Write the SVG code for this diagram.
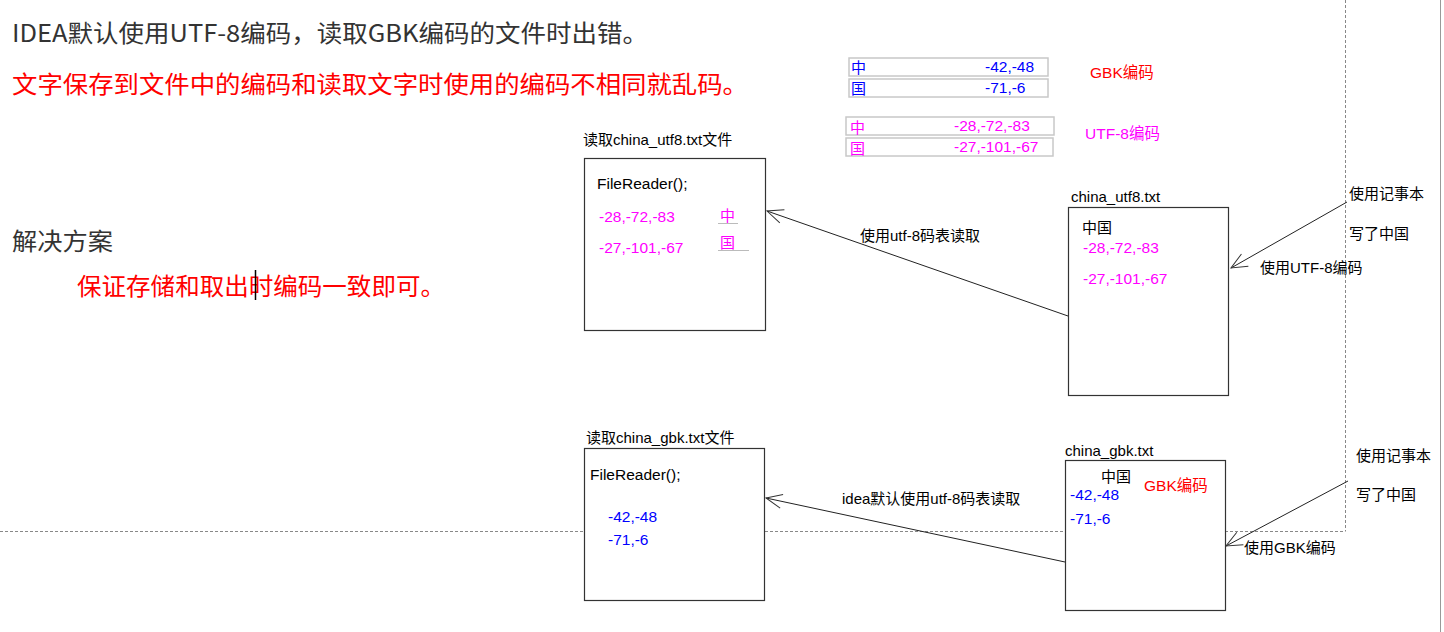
<svg xmlns="http://www.w3.org/2000/svg" width="1444" height="632" viewBox="0 0 1444 632">
<style>
text{font-family:"Liberation Sans","Noto Sans CJK SC",sans-serif;font-size:15px;fill:#000}
.big{font-family:"Noto Sans CJK SC","Liberation Sans",sans-serif;font-size:24px}
.dk{fill:#333}
.red{fill:#ff0000}
.mag{fill:#ff00ff}
.blu{fill:#0000ff}
.v{font-size:15.5px}
.box{fill:#fff;stroke:#333;stroke-width:1.2}
.cell{fill:none;stroke:#c8c8c8;stroke-width:1.5}
.dash{stroke:#888;stroke-width:1;stroke-dasharray:3,2;fill:none}
.conn{stroke:#222;stroke-width:1;fill:none}
.ul{stroke:#bbb;stroke-width:1}
</style>
<defs>
<marker id="arr" markerUnits="userSpaceOnUse" markerWidth="20" markerHeight="20" refX="0" refY="0" viewBox="-2 -10 20 20" orient="auto" overflow="visible">
<path d="M-16,-7 L0,0 L-16,7" fill="none" stroke="#333" stroke-width="1"/>
</marker>
</defs>
<rect width="1444" height="632" fill="#fff"/>
<g id="guides">
<line class="dash" x1="1345.5" y1="0" x2="1345.5" y2="531"/>
<line class="dash" x1="0" y1="531.5" x2="1345.5" y2="531.5"/>
<line x1="1440.5" y1="0" x2="1440.5" y2="632" stroke="#999" stroke-width="1"/>
</g>
<g id="titles">
<text class="big dk" x="12" y="42" textLength="636" lengthAdjust="spacingAndGlyphs">IDEA默认使用UTF-8编码，读取GBK编码的文件时出错。</text>
<text class="big red" x="12" y="93" textLength="736" lengthAdjust="spacingAndGlyphs">文字保存到文件中的编码和读取文字时使用的编码不相同就乱码。</text>
<text class="big dk" x="12" y="250" textLength="101" lengthAdjust="spacingAndGlyphs">解决方案</text>
<text class="big red" x="77" y="295" textLength="368" lengthAdjust="spacingAndGlyphs">保证存储和取出时编码一致即可。</text>
<line x1="255.5" y1="270" x2="255.5" y2="300" stroke="#000" stroke-width="1.5"/>
</g>
<g id="gbk-table">
<rect class="cell" x="849" y="58" width="199" height="18"/>
<rect class="cell" x="849" y="79" width="199" height="18"/>
<text class="blu" x="851" y="73">中</text>
<text class="blu v" x="985" y="72">-42,-48</text>
<text class="blu" x="851" y="94">国</text>
<text class="blu v" x="985" y="93">-71,-6</text>
<text class="red v" x="1090" y="78">GBK编码</text>
</g>
<g id="utf8-table">
<rect class="cell" x="846" y="117" width="208" height="18"/>
<rect class="cell" x="846" y="138" width="207" height="18"/>
<text class="mag" x="850" y="133">中</text>
<text class="mag v" x="954" y="131">-28,-72,-83</text>
<text class="mag" x="850" y="154">国</text>
<text class="mag v" x="954" y="152">-27,-101,-67</text>
<text class="mag v" x="1085" y="139">UTF-8编码</text>
</g>
<g id="read-utf8">
<text x="583" y="145">读取china_utf8.txt文件</text>
<rect class="box" x="584.5" y="158.5" width="181" height="172"/>
<text class="v" x="597" y="189">FileReader();</text>
<text class="mag v" x="599" y="222">-28,-72,-83</text>
<text class="mag" x="720" y="221">中</text>
<line class="ul" x1="718" y1="223.5" x2="738" y2="223.5"/>
<text class="mag v" x="599" y="253">-27,-101,-67</text>
<text class="mag" x="720" y="248">国</text>
<line class="ul" x1="718" y1="250.5" x2="749" y2="250.5"/>
</g>
<g id="file-utf8">
<text x="1071" y="202">china_utf8.txt</text>
<rect class="box" x="1068.5" y="207.5" width="160" height="188"/>
<text x="1082" y="233">中国</text>
<text class="mag v" x="1083" y="253">-28,-72,-83</text>
<text class="mag v" x="1083" y="284">-27,-101,-67</text>
</g>
<g id="read-gbk">
<text x="586" y="443">读取china_gbk.txt文件</text>
<rect class="box" x="584.5" y="448.5" width="180" height="152"/>
<text class="v" x="590" y="480">FileReader();</text>
<text class="blu v" x="608" y="522">-42,-48</text>
<text class="blu v" x="608" y="545">-71,-6</text>
</g>
<g id="file-gbk">
<text x="1065" y="456">china_gbk.txt</text>
<rect class="box" x="1065.5" y="460.5" width="160" height="150"/>
<text x="1101" y="482">中国</text>
<text class="red v" x="1144" y="491">GBK编码</text>
<text class="blu v" x="1070" y="500">-42,-48</text>
<text class="blu v" x="1070" y="524">-71,-6</text>
</g>
<g id="notepad-utf8">
<text x="1349" y="199">使用记事本</text>
<text x="1349" y="239">写了中国</text>
<text x="1260" y="273">使用UTF-8编码</text>
</g>
<g id="notepad-gbk">
<text x="1356" y="461">使用记事本</text>
<text x="1356" y="500">写了中国</text>
<text x="1244" y="553">使用GBK编码</text>
</g>
<g id="connectors">
<line class="conn" x1="1068" y1="316" x2="767" y2="211" marker-end="url(#arr)"/>
<text x="860" y="241">使用utf-8码表读取</text>
<line class="conn" x1="1347" y1="202" x2="1231" y2="268" marker-end="url(#arr)"/>
<line class="conn" x1="1065" y1="562" x2="766" y2="498" marker-end="url(#arr)"/>
<text x="842" y="504">idea默认使用utf-8码表读取</text>
<line class="conn" x1="1348" y1="481" x2="1226" y2="546" marker-end="url(#arr)"/>
</g>
</svg>
